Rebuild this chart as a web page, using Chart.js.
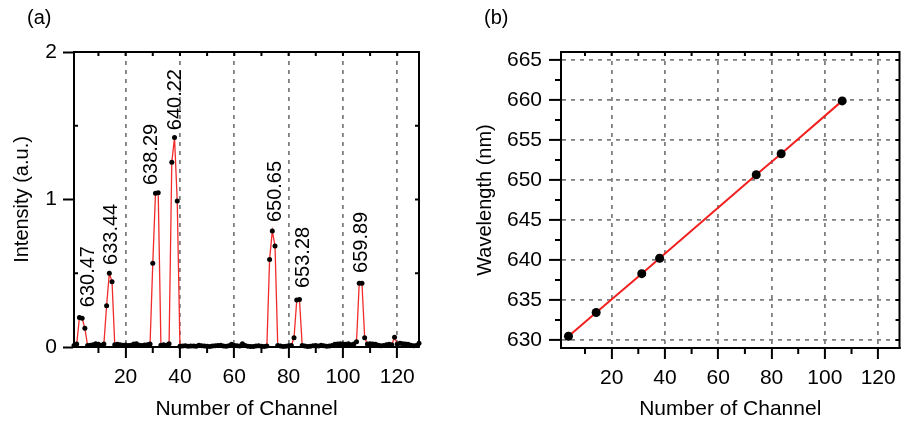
<!DOCTYPE html>
<html>
<head>
<meta charset="utf-8">
<script src="https://cdn.jsdelivr.net/npm/chart.js@4.4.0/dist/chart.umd.min.js"></script>
<style>
html, body { margin: 0; padding: 0; background: #fff; }
#wrap { position: relative; width: 904px; height: 428px; overflow: hidden; }
canvas { position: absolute; top: 0; }
</style>
</head>
<body>
<div id="wrap">
  <canvas id="specChart" width="452" height="428" style="left:0"></canvas>
  <canvas id="calChart" width="452" height="428" style="left:452px"></canvas>
</div>
<script>
// (a) spectrum: intensity per channel
const channels = Array.from({length: 128}, (_, i) => i + 1);
const intensity = [
    0.010, 0.020, 0.200, 0.195, 0.127, 0.010, 0.012, 0.015, 0.022, 0.018,
    0.012, 0.020, 0.280, 0.500, 0.443, 0.015, 0.018, 0.016, 0.012, 0.014,
    0.010, 0.012, 0.020, 0.022, 0.012, 0.010, 0.013, 0.015, 0.020, 0.567,
    1.042, 1.046, 0.012, 0.015, 0.012, 0.022, 1.252, 1.420, 0.990, 0.005,
    0.006, 0.008, 0.005, 0.007, 0.006, 0.005, 0.012, 0.008, 0.006, 0.005,
    0.004, 0.006, 0.008, 0.010, 0.012, 0.007, 0.005, 0.008, 0.018, 0.010,
    0.008, 0.006, 0.022, 0.010, 0.005, 0.004, 0.003, 0.006, 0.008, 0.005,
    0.004, 0.006, 0.594, 0.786, 0.685, 0.010, 0.006, 0.004, 0.005, 0.008,
    0.010, 0.063, 0.319, 0.322, 0.010, 0.006, 0.004, 0.005, 0.008, 0.010,
    0.006, 0.012, 0.008, 0.005, 0.006, 0.010, 0.018, 0.020, 0.022, 0.020,
    0.018, 0.022, 0.015, 0.020, 0.036, 0.432, 0.432, 0.063, 0.020, 0.022,
    0.020, 0.018, 0.012, 0.008, 0.010, 0.015, 0.018, 0.016, 0.066, 0.020,
    0.025, 0.022, 0.020, 0.018, 0.012, 0.008, 0.010, 0.025
];

// (b) calibration: peak channel vs wavelength
const peakChannels = [3.8, 14.2, 31.3, 38.0, 74.25, 83.6, 106.5];
const wavelengths = [630.47, 633.44, 638.29, 640.22, 650.65, 653.28, 659.89];

// tick values
const channelTicks = [20, 40, 60, 80, 100, 120];
const channelMinor = [10, 30, 50, 70, 90, 110];
const intensityTicks = [0, 1, 2];
const intensityMinor = [0.5, 1.5];
const wavelengthTicks = [630, 635, 640, 645, 650, 655, 660, 665];
const wavelengthMinor = [632.5, 637.5, 642.5, 647.5, 652.5, 657.5, 662.5];

Chart.defaults.font.family = "'Liberation Sans', Arial, Helvetica, sans-serif";
Chart.defaults.color = '#000';

const FONT = "'Liberation Sans', Arial, Helvetica, sans-serif";
const gridGray = '#7f7f7f';

// box frame, minor ticks, panel letter and peak labels
const frame = {
    id: 'frame',
    afterDraw(chart, args, o) {
        const {ctx, chartArea: a, scales: {x, y}} = chart;
        ctx.save();
        ctx.strokeStyle = '#000';
        ctx.lineWidth = 2;
        ctx.beginPath();
        ctx.moveTo(a.left, a.top);
        ctx.lineTo(a.right, a.top);
        ctx.lineTo(a.right, a.bottom);
        o.minorX.forEach(v => {
            const px = x.getPixelForValue(v);
            ctx.moveTo(px, a.bottom);
            ctx.lineTo(px, a.bottom + o.minorLen);
        });
        o.minorY.forEach(v => {
            const py = y.getPixelForValue(v);
            ctx.moveTo(a.left, py);
            ctx.lineTo(a.left - o.minorYLen, py);
        });
        // short inward ticks on top and right
        o.minorX.concat(o.majorX).forEach(v => {
            const px = x.getPixelForValue(v);
            ctx.moveTo(px, a.top);
            ctx.lineTo(px, a.top + 4);
        });
        o.minorY.concat(o.majorY).forEach(v => {
            const py = y.getPixelForValue(v);
            ctx.moveTo(a.right, py);
            ctx.lineTo(a.right - 4, py);
        });
        ctx.stroke();

        ctx.fillStyle = '#000';
        ctx.font = '20px ' + FONT;
        ctx.textBaseline = 'middle';
        ctx.textAlign = 'left';
        ctx.fillText(o.letter, o.letterX, o.letterY);

        if (o.labels) {
            ctx.font = '20px ' + FONT;
            o.labels.forEach((txt, i) => {
                const [cx, cy] = o.anchors[i];
                ctx.save();
                ctx.translate(x.getPixelForValue(cx), y.getPixelForValue(cy));
                ctx.rotate(-Math.PI / 2);
                ctx.fillText(txt, 0, 0);
                ctx.restore();
            });
        }
        ctx.restore();
    }
};

function xAxis(height) {
    return {
        type: 'linear', min: 1, max: 128,
        afterBuildTicks: s => { s.ticks = channelTicks.map(v => ({value: v})); },
        afterFit: s => { s.height = height; },
        grid: { color: gridGray, lineWidth: 1.8, tickLength: 11, tickWidth: 2, tickColor: '#000' },
        border: { color: '#000', width: 2, dash: [4, 5] },
        ticks: { font: {size: 21}, padding: 7, maxRotation: 0, autoSkip: false },
        title: { display: true, text: 'Number of Channel', font: {size: 21}, padding: {top: 0, bottom: 6} }
    };
}

new Chart(document.getElementById('specChart'), {
    type: 'line',
    data: {
        datasets: [{
            data: channels.map((c, i) => ({x: c, y: intensity[i]})),
            borderColor: '#f22a2a',
            borderWidth: 1.3,
            pointRadius: 2.5,
            pointBackgroundColor: '#000',
            pointBorderWidth: 0,
            tension: 0,
            clip: false
        }]
    },
    options: {
        responsive: false,
        animation: false,
        layout: { padding: {left: 0, top: 52, right: 33, bottom: 0} },
        plugins: {
            legend: { display: false },
            tooltip: { enabled: false },
            frame: {
                minorX: channelMinor, majorX: channelTicks,
                minorY: intensityMinor, majorY: intensityTicks,
                minorLen: 6, minorYLen: -4,
                letter: '(a)', letterX: 27, letterY: 18,
                labels: wavelengths.map(w => w.toFixed(2)),
                anchors: [[6.3, 0.27], [14.9, 0.556], [29.6, 1.098], [38.2, 1.47], [75.3, 0.847], [85.4, 0.40], [106.9, 0.502]]
            }
        },
        scales: {
            x: xAxis(81),
            y: {
                min: 0, max: 2,
                afterBuildTicks: s => { s.ticks = intensityTicks.map(v => ({value: v})); },
                afterFit: s => { s.width = 74; },
                grid: { drawOnChartArea: false, tickLength: 11, tickWidth: 2, tickColor: '#000' },
                border: { color: '#000', width: 2 },
                ticks: { font: {size: 21}, padding: 6 },
                title: { display: true, text: 'Intensity (a.u.)', font: {size: 20}, padding: {top: 10, bottom: 0} }
            }
        }
    },
    plugins: [frame]
});

new Chart(document.getElementById('calChart'), {
    type: 'scatter',
    data: {
        datasets: [{
            data: peakChannels.map((c, i) => ({x: c, y: wavelengths[i]})),
            showLine: true,
            borderColor: '#f22020',
            borderWidth: 2,
            pointRadius: 4.5,
            pointBackgroundColor: '#000',
            pointBorderWidth: 0,
            clip: false
        }]
    },
    options: {
        responsive: false,
        animation: false,
        layout: { padding: {left: 0, top: 52, right: 1, bottom: 0} },
        plugins: {
            legend: { display: false },
            tooltip: { enabled: false },
            frame: {
                minorX: channelMinor, majorX: channelTicks,
                minorY: wavelengthMinor, majorY: wavelengthTicks,
                minorLen: 6, minorYLen: 6,
                letter: '(b)', letterX: 32, letterY: 18
            }
        },
        scales: {
            x: xAxis(80),
            y: {
                min: 629, max: 666,
                afterBuildTicks: s => { s.ticks = wavelengthTicks.map(v => ({value: v})); },
                afterFit: s => { s.width = 109; },
                grid: { color: gridGray, lineWidth: 1.8, tickLength: 12, tickWidth: 2, tickColor: '#000' },
                border: { color: '#000', width: 2, dash: [4, 5] },
                ticks: { font: {size: 21}, padding: 7 },
                title: { display: true, text: 'Wavelength (nm)', font: {size: 20}, padding: {top: 21, bottom: 0} }
            }
        }
    },
    plugins: [frame]
});
</script>
</body>
</html>
